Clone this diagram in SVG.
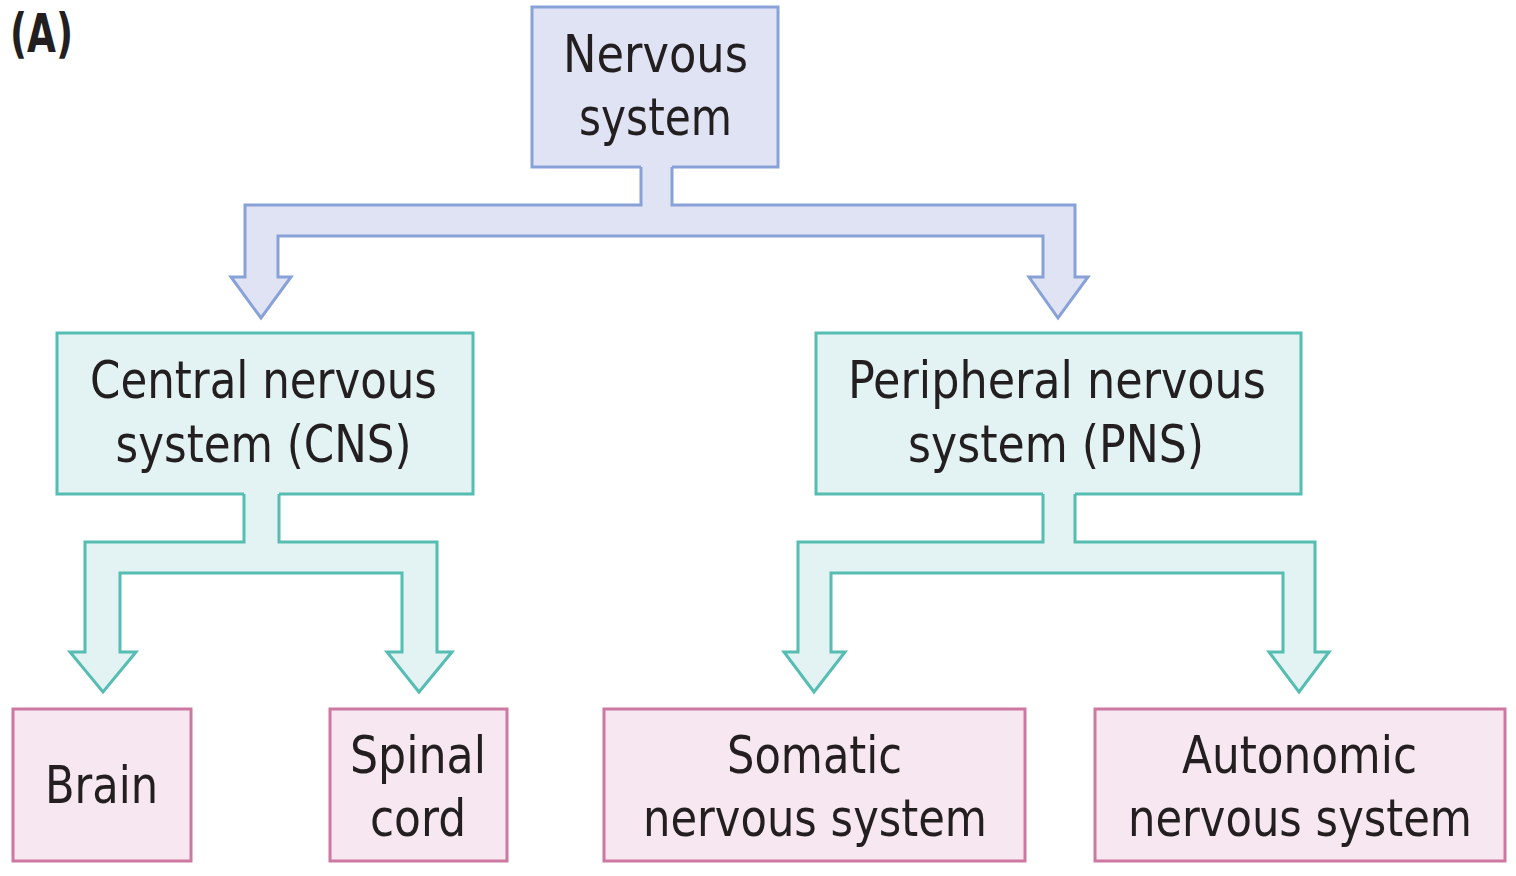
<svg xmlns="http://www.w3.org/2000/svg" width="1516" height="876" viewBox="0 0 1516 876">
<defs>
<style>
text{font-family:"DejaVu Sans Condensed","DejaVu Sans","Liberation Sans",sans-serif;font-size:52px;fill:#231f20;text-anchor:middle}
.blue{fill:#e0e3f3;stroke:#88a2d8;stroke-width:3}
.teal{fill:#e3f2f2;stroke:#55bdb2;stroke-width:3}
.pink{fill:#f7e7f0;stroke:#cd78a0;stroke-width:3}
.bf{fill:#e0e3f3}
.tf{fill:#e3f2f2}
.bs{fill:none;stroke:#88a2d8;stroke-width:3;stroke-linejoin:miter}
.ts{fill:none;stroke:#55bdb2;stroke-width:3;stroke-linejoin:miter}
.lab{font-weight:bold;text-anchor:start;font-size:54px}
</style>
</defs>
<rect width="1516" height="876" fill="#ffffff"/>
<text class="lab" x="10" y="52" textLength="63" lengthAdjust="spacingAndGlyphs">(A)</text>

<g id="nervous-system">
<rect class="blue" x="532" y="7" width="246" height="160"/>
<text x="655.5" y="72" textLength="185" lengthAdjust="spacingAndGlyphs">Nervous</text>
<text x="655.5" y="135" textLength="153" lengthAdjust="spacingAndGlyphs">system</text>
</g>
<g id="cns">
<rect class="teal" x="57" y="333" width="416" height="161"/>
<text x="263.5" y="398" textLength="347" lengthAdjust="spacingAndGlyphs">Central nervous</text>
<text x="263.5" y="462" textLength="296" lengthAdjust="spacingAndGlyphs">system (CNS)</text>
</g>
<g id="pns">
<rect class="teal" x="816" y="333" width="485" height="161"/>
<text x="1057" y="398" textLength="418" lengthAdjust="spacingAndGlyphs">Peripheral nervous</text>
<text x="1056" y="462" textLength="296" lengthAdjust="spacingAndGlyphs">system (PNS)</text>
</g>
<g id="brain">
<rect class="pink" x="13" y="709" width="178" height="152"/>
<text x="101.5" y="803" textLength="113" lengthAdjust="spacingAndGlyphs">Brain</text>
</g>
<g id="spinal-cord">
<rect class="pink" x="330" y="709" width="177" height="152"/>
<text x="418" y="773" textLength="136" lengthAdjust="spacingAndGlyphs">Spinal</text>
<text x="418" y="836" textLength="96" lengthAdjust="spacingAndGlyphs">cord</text>
</g>
<g id="somatic">
<rect class="pink" x="604" y="709" width="421" height="152"/>
<text x="814.5" y="773" textLength="175" lengthAdjust="spacingAndGlyphs">Somatic</text>
<text x="815" y="836" textLength="344" lengthAdjust="spacingAndGlyphs">nervous system</text>
</g>
<g id="autonomic">
<rect class="pink" x="1095" y="709" width="410" height="152"/>
<text x="1299.5" y="773" textLength="235" lengthAdjust="spacingAndGlyphs">Autonomic</text>
<text x="1300" y="836" textLength="344" lengthAdjust="spacingAndGlyphs">nervous system</text>
</g>

<g id="connectors">
<!-- Nervous system -> CNS / PNS -->
<polygon class="bf" points="641,164 641,205 245,205 245,277 231,277 261,318 291,277 278,277 278,236 1043,236 1043,277 1029,277 1058,318 1088,277 1075,277 1075,205 672,205 672,164"/>
<polyline class="bs" points="641,167 641,205 245,205 245,277 231,277 261,318 291,277 278,277 278,236 1043,236 1043,277 1029,277 1058,318 1088,277 1075,277 1075,205 672,205 672,167"/>
<!-- CNS -> Brain / Spinal cord -->
<polygon class="tf" points="244,491 244,542 85,542 85,652 70,652 103,692 136,652 120,652 120,573 402,573 402,652 387,652 419,692 452,652 437,652 437,542 279,542 279,491"/>
<polyline class="ts" points="244,494 244,542 85,542 85,652 70,652 103,692 136,652 120,652 120,573 402,573 402,652 387,652 419,692 452,652 437,652 437,542 279,542 279,494"/>
<!-- PNS -> Somatic / Autonomic -->
<polygon class="tf" points="1043,491 1043,542 798,542 798,652 784,652 814,692 845,652 831,652 831,573 1283,573 1283,652 1269,652 1299,692 1329,652 1315,652 1315,542 1075,542 1075,491"/>
<polyline class="ts" points="1043,494 1043,542 798,542 798,652 784,652 814,692 845,652 831,652 831,573 1283,573 1283,652 1269,652 1299,692 1329,652 1315,652 1315,542 1075,542 1075,494"/>
</g>
</svg>
